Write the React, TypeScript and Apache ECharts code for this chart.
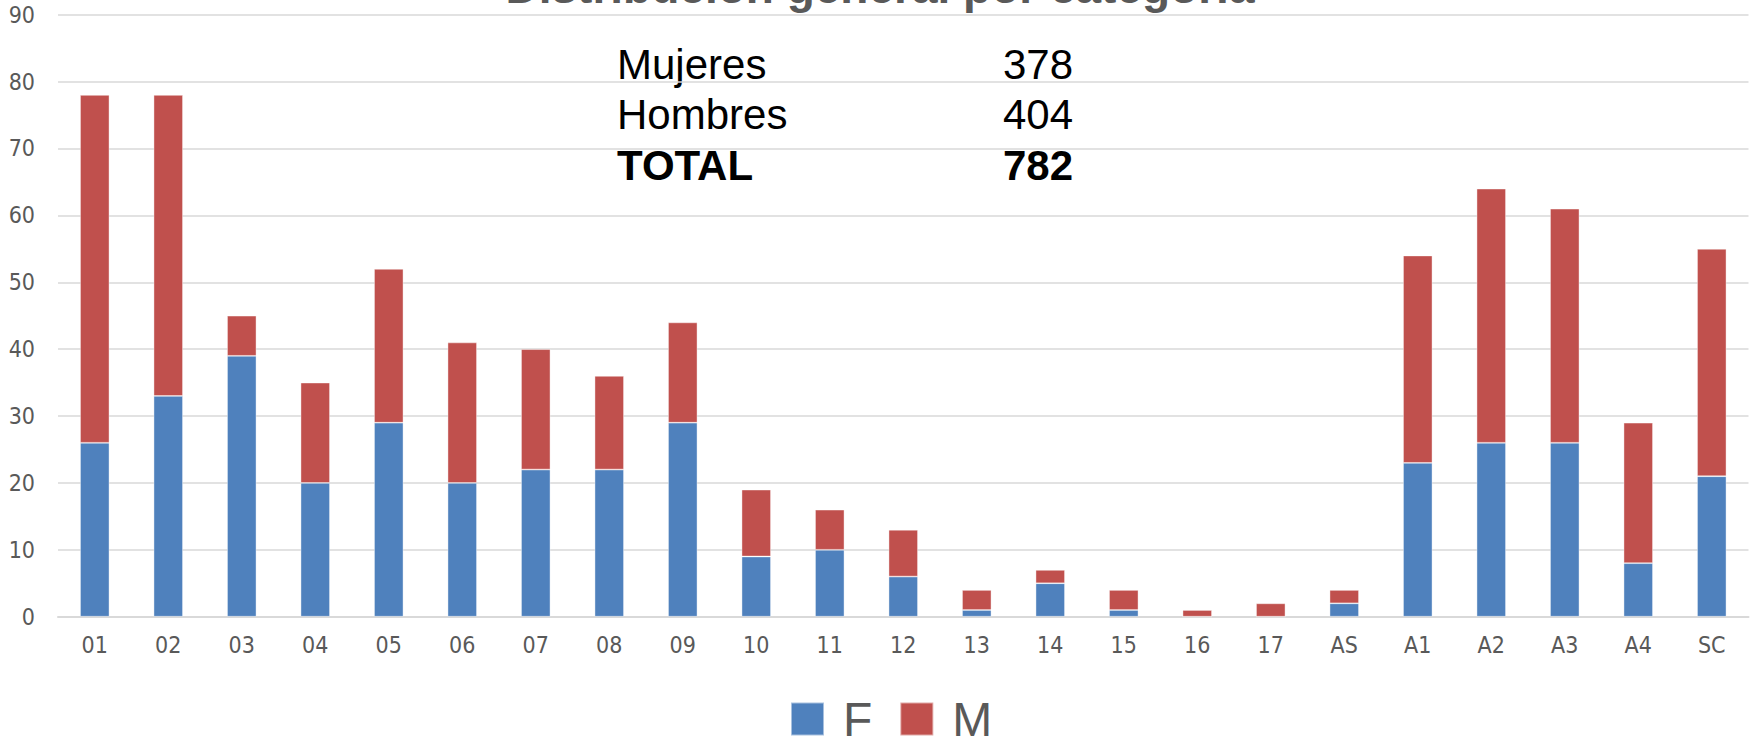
import React, { useEffect, useRef } from "react";
import * as echarts from "echarts";

const categories = ["01", "02", "03", "04", "05", "06", "07", "08", "09", "10", "11", "12", "13", "14", "15", "16", "17", "AS", "A1", "A2", "A3", "A4", "SC"];
const femaleValues = [26, 33, 39, 20, 29, 20, 22, 22, 29, 9, 10, 6, 1, 5, 1, 0, 0, 2, 23, 26, 26, 8, 21];
const maleValues = [52, 45, 6, 15, 23, 21, 18, 14, 15, 10, 6, 7, 3, 2, 3, 1, 2, 2, 31, 38, 35, 21, 34];
const seriesNames = ["F", "M"];
const titleText = "Distribución general por categoría";
const summaryLabels = ["Mujeres", "Hombres", "TOTAL"];
const summaryValues = ["378", "404", "782"];

const NARROW = '"Liberation Sans Narrow", "DejaVu Sans Condensed", "Liberation Sans", sans-serif';
const SANS = '"Liberation Sans", Arial, sans-serif';

export default function App() {
  const ref = useRef<HTMLDivElement>(null);
  useEffect(() => {
    if (!ref.current) return;
    const chart = echarts.init(ref.current, undefined, { renderer: "svg" });
    const baselines = [79, 129.5, 180];
    const summaryGraphics: any[] = [];
    summaryLabels.forEach((lab, i) => {
      const bold = i === 2;
      summaryGraphics.push({
        type: "text",
        x: 617,
        y: baselines[i] - 14.6,
        style: {
          text: lab,
          fontFamily: SANS,
          fontSize: 42,
          fontWeight: bold ? "bold" : "normal",
          fill: "#000000",
          verticalAlign: "middle",
          align: "left",
        },
      });
      summaryGraphics.push({
        type: "text",
        x: 1003,
        y: baselines[i] - 14.6,
        style: {
          text: summaryValues[i],
          fontFamily: SANS,
          fontSize: 42,
          fontWeight: bold ? "bold" : "normal",
          fill: "#000000",
          verticalAlign: "middle",
          align: "left",
        },
      });
    });
    chart.setOption({
      animation: false,
      backgroundColor: "#ffffff",
      grid: { left: 58, right: 5.5, top: 14.7, bottom: 127.3, containLabel: false },
      xAxis: {
        type: "category",
        data: categories,
        axisLine: { show: true, lineStyle: { color: "#d9d9d9", width: 2 } },
        axisTick: { show: false },
        axisLabel: { color: "#595959", fontSize: 23, fontFamily: NARROW, margin: 17 },
      },
      yAxis: {
        type: "value",
        min: 0,
        max: 90,
        interval: 10,
        axisLine: { show: false },
        axisTick: { show: false },
        splitLine: { lineStyle: { color: "#d9d9d9", width: 1.5 } },
        axisLabel: { color: "#595959", fontSize: 23, fontFamily: NARROW, margin: 23 },
      },
      legend: {
        data: seriesNames,
        left: 785,
        top: 690,
        itemWidth: 33,
        itemHeight: 33,
        itemGap: 27,
        icon: "rect",
        textStyle: { color: "#595959", fontSize: 48, lineHeight: 42, fontFamily: SANS, padding: [0, 0, 0, 14] },
      },
      series: [
        {
          name: seriesNames[0],
          type: "bar",
          stack: "total",
          data: femaleValues,
          barWidth: "40%",
          itemStyle: { color: "#4f81bd", borderColor: "rgba(255,255,255,0.5)", borderWidth: 0.8 },
        },
        {
          name: seriesNames[1],
          type: "bar",
          stack: "total",
          data: maleValues,
          barWidth: "40%",
          itemStyle: { color: "#c0504d", borderColor: "rgba(255,255,255,0.5)", borderWidth: 0.8 },
        },
      ],
      graphic: [
        {
          type: "text",
          x: 880,
          y: 3 - 0.3465 * 46,
          style: {
            text: titleText,
            fontFamily: SANS,
            fontSize: 46,
            fontWeight: "bold",
            fill: "#595959",
            align: "center",
            verticalAlign: "middle",
          },
        },
        ...summaryGraphics,
      ],
    });
    return () => chart.dispose();
  }, []);
  return (
    <div
      ref={ref}
      style={{ position: "absolute", left: 0, top: 0, width: 1754, height: 744 }}
    />
  );
}
